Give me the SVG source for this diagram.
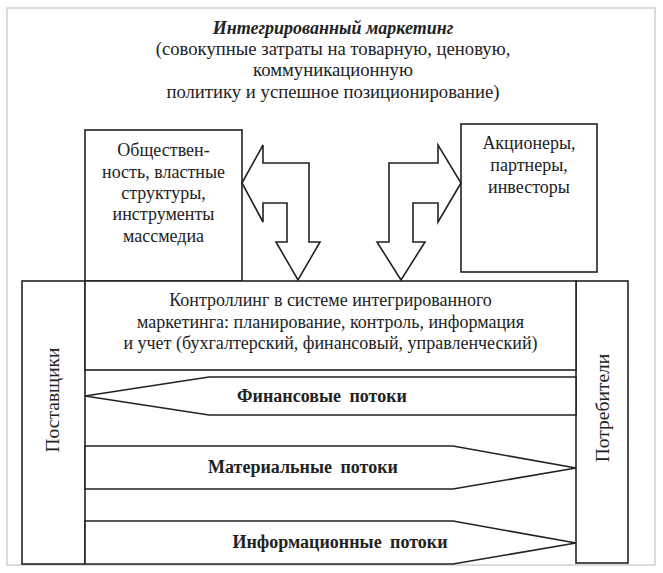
<svg xmlns="http://www.w3.org/2000/svg" width="663" height="573" viewBox="0 0 663 573">
<style>
.b{fill:#fff;stroke:#222;stroke-width:1.6}
.t{font-family:"Liberation Serif","Times New Roman","DejaVu Serif",serif;font-size:18px;fill:#222;text-anchor:middle}
.h{font-size:18.7px}
.v{font-size:19.5px}
.f{font-family:"Liberation Serif","Times New Roman","DejaVu Serif",serif;font-size:18px;font-weight:bold;fill:#222;text-anchor:middle;word-spacing:4px}
</style>
<rect x="0" y="0" width="663" height="573" fill="#fff"/>
<rect x="7" y="8" width="648" height="557" fill="#fff" stroke="#cfcfcf" stroke-width="1.5"/>
<g id="title">
<text class="t" x="333" y="34" font-weight="bold" font-style="italic" font-size="20">Интегрированный маркетинг</text>
<text class="t h" x="333" y="55">(совокупные затраты на товарную, ценовую,</text>
<text class="t h" x="333" y="76">коммуникационную</text>
<text class="t h" x="333" y="98">политику и успешное позиционирование)</text>
</g>
<g id="public">
<rect class="b" x="85" y="130" width="157" height="151"/>
<text class="t" x="163.5" y="156">Обществен-</text>
<text class="t" x="163.5" y="178">ность, властные</text>
<text class="t" x="163.5" y="199">структуры,</text>
<text class="t" x="163.5" y="220">инструменты</text>
<text class="t" x="163.5" y="242">массмедиа</text>
</g>
<g id="shareholders">
<rect class="b" x="461" y="124" width="136" height="148"/>
<text class="t" x="529" y="149">Акционеры,</text>
<text class="t" x="529" y="171">партнеры,</text>
<text class="t" x="529" y="193">инвесторы</text>
</g>
<g id="suppliers">
<rect class="b" x="22" y="281" width="63" height="283"/>
<text class="t v" transform="translate(59,400) rotate(-90)">Поставщики</text>
</g>
<g id="consumers">
<rect class="b" x="576" y="281" width="52" height="282"/>
<text class="t v" transform="translate(609,408) rotate(-90)">Потребители</text>
</g>
<g id="controlling">
<rect class="b" x="85" y="281" width="491" height="89"/>
<text class="t" x="330.5" y="306" font-size="18.5">Контроллинг в системе интегрированного</text>
<text class="t" x="330.5" y="328">маркетинга: планирование, контроль, информация</text>
<text class="t" x="330.5" y="349">и учет (бухгалтерский, финансовый, управленческий)</text>
</g>
<g id="connectors">
<polygon class="b" points="242,183 263,145 263,163 309,163 309,242 320,242 298,280 276,242 287,242 287,203 263,203 263,222"/>
<polygon class="b" points="461,183 438,222 438,203 413,203 413,242 425,242 401,280 377,242 389,242 389,163 438,163 438,145"/>
<polygon class="b" points="85,396 209,377 576,377 576,415 209,415"/>
<polygon class="b" points="85,446 453,446 576,468 453,489 85,489"/>
<polygon class="b" points="85,521 453,521 576,543 453,564 85,564"/>
</g>
<g id="flow-labels">
<text class="f" x="322" y="402">Финансовые потоки</text>
<text class="f" x="303" y="473">Материальные потоки</text>
<text class="f" x="340" y="548">Информационные потоки</text>
</g>
</svg>
